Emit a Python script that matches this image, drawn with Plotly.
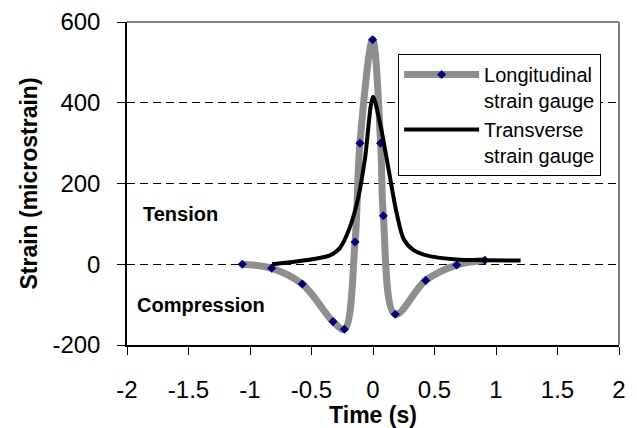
import plotly.graph_objects as go

# Longitudinal strain gauge (markers)
long_time = [-1.063, -0.824, -0.575, -0.325, -0.233, -0.146, -0.106, -0.003,
             0.062, 0.084, 0.181, 0.428, 0.680, 0.910]
long_strain = [0, -10, -49, -142, -161, 55, 300, 556, 300, 120, -124, -40, -2, 10]

# Transverse strain gauge (line only)
trans_time = [-0.82, -0.35, -0.27, -0.19, -0.12, -0.065, 0.0, 0.06, 0.125,
              0.19, 0.25, 0.33, 0.46, 0.68, 0.90, 1.20]
trans_strain = [0, 22, 40, 90, 165, 262, 415, 345, 238, 130, 62, 35, 20, 12, 10, 9]

x_ticks = [-2, -1.5, -1, -0.5, 0, 0.5, 1, 1.5, 2]
y_ticks = [-200, 0, 200, 400, 600]

FONT = "Liberation Sans, Arial, sans-serif"

fig = go.Figure()
fig.add_trace(go.Scatter(
    x=long_time, y=long_strain, mode="lines+markers",
    name="Longitudinal<br>strain gauge",
    line=dict(color="#8e8e8e", width=7, shape="spline", smoothing=1.0),
    marker=dict(symbol="diamond", size=7, color="#000080"),
))
fig.add_trace(go.Scatter(
    x=trans_time, y=trans_strain, mode="lines",
    name="Transverse<br>strain gauge",
    line=dict(color="#000000", width=4, shape="spline", smoothing=0.8),
))

fig.add_annotation(x=-1.884, y=124, text="<b>Tension</b>", showarrow=False,
                   xanchor="left", yanchor="middle",
                   font=dict(family=FONT, size=20, color="black"))
fig.add_annotation(x=-1.933, y=-101, text="<b>Compression</b>", showarrow=False,
                   xanchor="left", yanchor="middle",
                   font=dict(family=FONT, size=20, color="black"))

# gray border on top and right
fig.add_shape(type="line", xref="paper", yref="paper", x0=0, x1=1, y0=1, y1=1,
              line=dict(color="#808080", width=2), layer="above")
fig.add_shape(type="line", xref="paper", yref="paper", x0=1, x1=1, y0=0, y1=1,
              line=dict(color="#808080", width=2), layer="above")

fig.update_layout(
    width=637, height=428,
    margin=dict(l=127, r=18, t=22, b=83, autoexpand=False),
    paper_bgcolor="white", plot_bgcolor="white",
    font=dict(family=FONT, color="black"),
    showlegend=True,
    legend=dict(
        x=0.551, y=0.901, xanchor="left", yanchor="top",
        bordercolor="black", borderwidth=1, bgcolor="white",
        font=dict(family=FONT, size=20, color="black"),
        valign="top", tracegroupgap=8, itemwidth=75,
    ),
    xaxis=dict(
        range=[-2, 2], tickvals=x_ticks, ticktext=[f"{v:g}" for v in x_ticks],
        showgrid=False, zeroline=False, automargin=False,
        showline=True, linecolor="black", linewidth=1.5,
        ticks="outside", ticklen=8, tickcolor="black", tickwidth=1,
        tickfont=dict(family=FONT, size=24, color="black"),
        ticklabelstandoff=14,
        title=dict(text="<b>Time (s)</b>", font=dict(family=FONT, size=23, color="black"),
                   standoff=4),
    ),
    yaxis=dict(
        range=[-200, 600], tickvals=y_ticks, ticktext=[str(v) for v in y_ticks],
        showgrid=True, gridcolor="black", gridwidth=1, griddash="8px,5px",
        zeroline=False, automargin=False,
        showline=True, linecolor="black", linewidth=1.5,
        ticks="outside", ticklen=8, tickcolor="black", tickwidth=1,
        tickfont=dict(family=FONT, size=24, color="black"),
        ticklabelstandoff=12,
        title=dict(text="<b>Strain (microstrain)</b>", font=dict(family=FONT, size=23, color="black"),
                   standoff=8),
    ),
)

fig.write_html("out.html", config={"displayModeBar": False},
               post_script="document.body.style.margin='0px';")
